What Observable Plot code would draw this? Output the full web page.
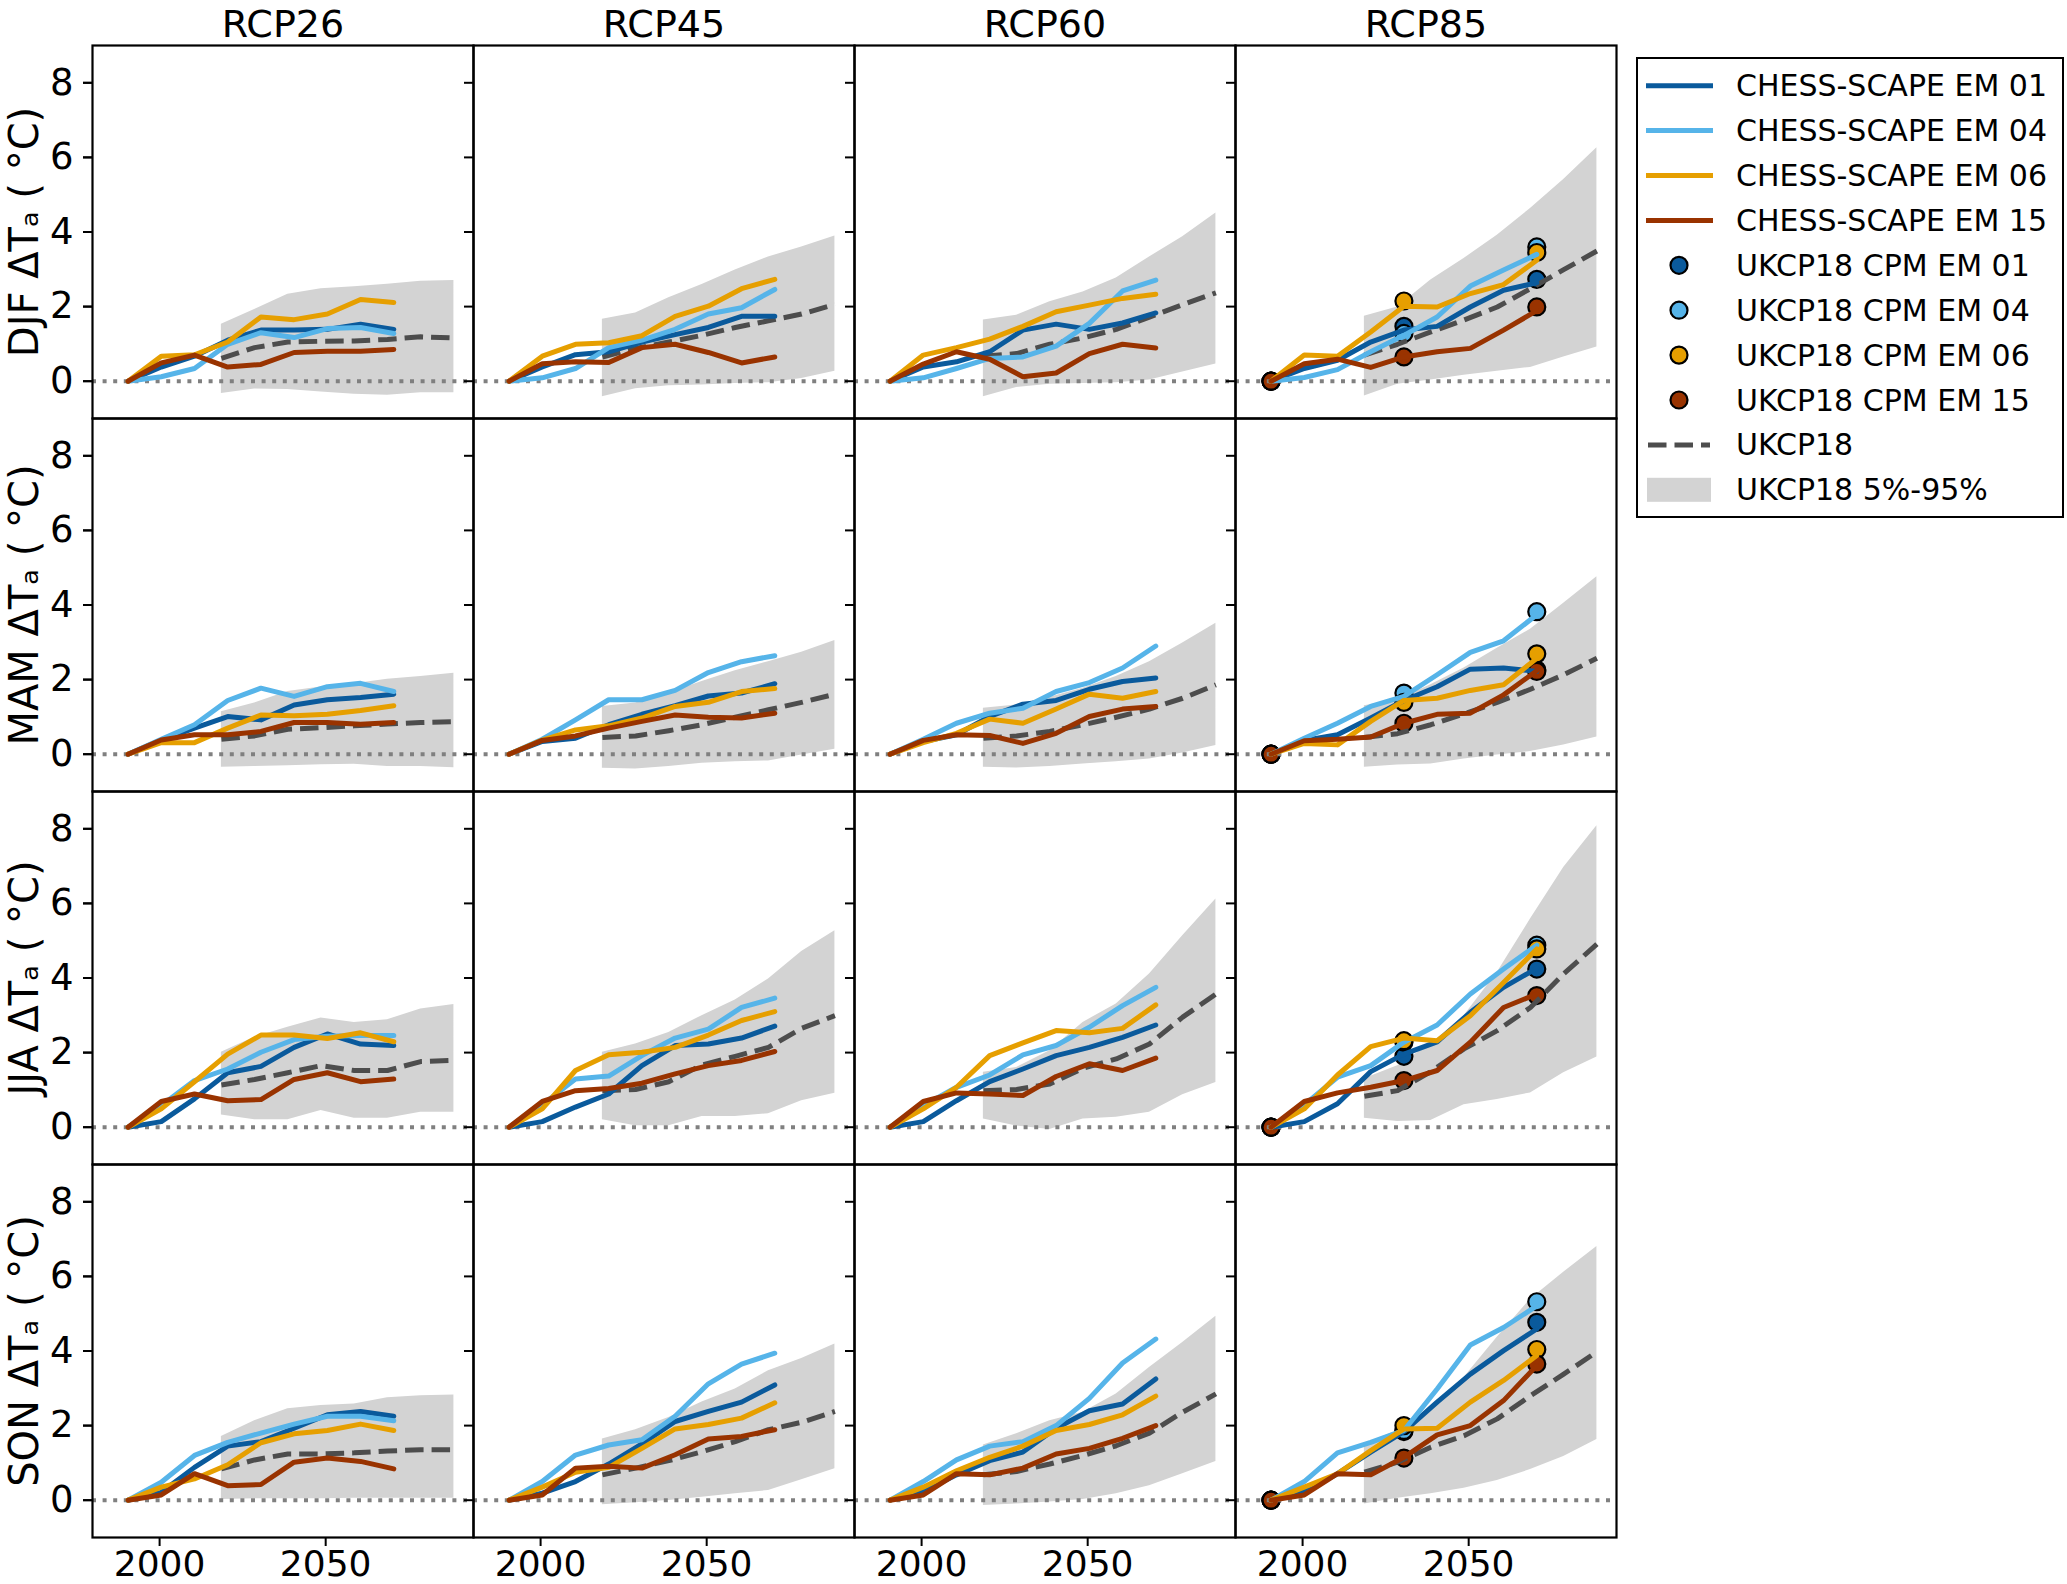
<!DOCTYPE html>
<html><head><meta charset="utf-8">
<script src="https://cdn.jsdelivr.net/npm/d3@7"></script>
<script src="https://cdn.jsdelivr.net/npm/@observablehq/plot@0.6"></script>
<style>
html,body{margin:0;padding:0;background:#fff;}
#wrap{position:relative;width:2067px;height:1584px;overflow:hidden;font-family:"DejaVu Sans",sans-serif;background:#fff;}
#chart{position:absolute;left:0;top:0;}
#legend{position:absolute;left:1636px;top:57px;}
</style></head>
<body><div id="wrap"><div id="chart"></div><div id="legend"></div></div>
<script>
// ---------- categories ----------
const rcps = ["RCP26", "RCP45", "RCP60", "RCP85"];
const seasons = ["DJF", "MAM", "JJA", "SON"];
const members = ["EM 01", "EM 04", "EM 06", "EM 15"];
const memberColors = ["#0a5a9c", "#56b4e9", "#e69f00", "#993300"];
const chessYears = [1990.5, 2000.5, 2010.5, 2020.5, 2030.5, 2040.5, 2050.5, 2060.5, 2070.5];
const ukcpYears = [2018.6, 2028.6, 2038.6, 2048.6, 2058.6, 2068.6, 2078.6, 2088.6];
const cpmYears = [1990.5, 2030.5, 2070.5];
const yTicks = [0, 2, 4, 6, 8];
const xTicks = [2000, 2050];

// ---------- CHESS-SCAPE (rows: RCP26, RCP45, RCP60, RCP85) ----------
const DJF_EM01 = [
  [0,0.38,0.67,1.10,1.37,1.37,1.39,1.53,1.39],
  [0,0.38,0.71,0.79,1.05,1.25,1.44,1.74,1.74],
  [0,0.38,0.52,0.79,1.37,1.53,1.39,1.56,1.83],
  [0,0.34,0.56,1.05,1.37,1.47,1.99,2.44,2.64]];
const DJF_EM04 = [
  [0,0.12,0.34,0.99,1.30,1.17,1.41,1.44,1.28],
  [0,0.09,0.34,0.90,1.10,1.39,1.80,1.97,2.46],
  [0,0.09,0.34,0.61,0.65,0.94,1.55,2.42,2.71],
  [0,0.10,0.31,0.79,1.23,1.72,2.55,2.98,3.40]];
const DJF_EM06 = [
  [0,0.67,0.71,1.05,1.72,1.65,1.80,2.19,2.11],
  [0,0.67,0.99,1.03,1.22,1.74,2.01,2.48,2.73],
  [0,0.70,0.90,1.13,1.47,1.86,2.04,2.22,2.33],
  [0,0.70,0.67,1.32,2.01,1.99,2.35,2.59,3.24]];
const DJF_EM15 = [
  [0,0.49,0.70,0.38,0.45,0.77,0.80,0.80,0.85],
  [0,0.47,0.52,0.50,0.90,0.99,0.77,0.49,0.65],
  [0,0.46,0.79,0.59,0.12,0.22,0.74,0.99,0.89],
  [0,0.47,0.59,0.37,0.65,0.79,0.88,1.37,1.89]];

const MAM_EM01 = [
  [0,0.38,0.70,1.01,0.92,1.32,1.46,1.52,1.61],
  [0,0.34,0.43,0.79,1.07,1.30,1.56,1.64,1.89],
  [0,0.34,0.52,1.01,1.34,1.44,1.74,1.95,2.04],
  [0,0.37,0.52,0.97,1.44,1.81,2.28,2.31,2.22]];
const MAM_EM04 = [
  [0,0.40,0.79,1.44,1.77,1.55,1.81,1.90,1.68],
  [0,0.40,0.92,1.46,1.46,1.71,2.19,2.48,2.64],
  [0,0.40,0.83,1.10,1.23,1.68,1.92,2.31,2.90],
  [0,0.43,0.83,1.28,1.55,2.13,2.73,3.04,3.74]];
const MAM_EM06 = [
  [0,0.31,0.31,0.70,1.05,1.03,1.07,1.17,1.30],
  [0,0.38,0.65,0.76,0.97,1.28,1.39,1.68,1.76],
  [0,0.31,0.56,0.94,0.83,1.21,1.61,1.50,1.68],
  [0,0.29,0.25,0.88,1.44,1.50,1.71,1.86,2.57]];
const MAM_EM15 = [
  [0,0.38,0.52,0.52,0.61,0.85,0.85,0.80,0.85],
  [0,0.37,0.49,0.70,0.88,1.05,0.99,0.97,1.10],
  [0,0.37,0.52,0.50,0.29,0.56,1.01,1.21,1.28],
  [0,0.36,0.40,0.46,0.83,1.07,1.10,1.59,2.24]];

const JJA_EM01 = [
  [0,0.15,0.76,1.46,1.63,2.14,2.50,2.23,2.19],
  [0,0.15,0.54,0.89,1.65,2.19,2.23,2.39,2.71],
  [0,0.15,0.71,1.22,1.56,1.92,2.14,2.41,2.74],
  [0,0.15,0.63,1.49,1.96,2.29,3.08,3.75,4.26]];
const JJA_EM04 = [
  [0,0.58,1.25,1.56,2.01,2.35,2.44,2.46,2.46],
  [0,0.60,1.29,1.37,1.92,2.39,2.63,3.21,3.46],
  [0,0.58,1.07,1.40,1.94,2.19,2.68,3.26,3.75],
  [0,0.60,1.34,1.65,2.28,2.74,3.57,4.24,4.88]];
const JJA_EM06 = [
  [0,0.49,1.22,1.96,2.47,2.47,2.38,2.53,2.29],
  [0,0.49,1.52,1.94,2.01,2.14,2.47,2.86,3.10],
  [0,0.49,1.07,1.92,2.26,2.59,2.53,2.65,3.28],
  [0,0.49,1.40,2.16,2.39,2.32,2.99,3.88,4.78]];
const JJA_EM15 = [
  [0,0.69,0.89,0.71,0.74,1.28,1.46,1.22,1.29],
  [0,0.69,0.98,1.04,1.18,1.43,1.65,1.79,2.03],
  [0,0.69,0.92,0.89,0.85,1.36,1.70,1.52,1.85],
  [0,0.69,0.92,1.07,1.25,1.52,2.28,3.21,3.57]];

const SON_EM01 = [
  [0,0.21,0.88,1.45,1.57,1.93,2.29,2.38,2.25],
  [0,0.19,0.50,0.97,1.51,2.11,2.38,2.63,3.09],
  [0,0.23,0.68,1.06,1.29,1.93,2.40,2.58,3.25],
  [0,0.23,0.71,1.29,1.84,2.63,3.38,4.01,4.59]];
const SON_EM04 = [
  [0,0.48,1.20,1.55,1.80,2.04,2.25,2.25,2.13],
  [0,0.50,1.21,1.48,1.62,2.25,3.12,3.65,3.94],
  [0,0.50,1.08,1.45,1.57,2.00,2.73,3.68,4.32],
  [0,0.50,1.27,1.55,1.87,2.98,4.16,4.63,5.21]];
const SON_EM06 = [
  [0,0.35,0.57,0.95,1.54,1.78,1.87,2.04,1.87],
  [0,0.35,0.75,0.88,1.39,1.91,2.03,2.20,2.61],
  [0,0.35,0.79,1.15,1.45,1.87,2.03,2.29,2.79],
  [0,0.35,0.71,1.33,1.91,1.93,2.63,3.21,3.88]];
const SON_EM15 = [
  [0,0.14,0.71,0.39,0.42,1.02,1.13,1.04,0.84],
  [0,0.14,0.86,0.91,0.86,1.22,1.64,1.71,1.89],
  [0,0.14,0.71,0.68,0.86,1.24,1.39,1.66,2.00],
  [0,0.14,0.71,0.68,1.15,1.75,2.00,2.67,3.61]];

// ---------- UKCP18 median, 5% and 95% (rows: RCP26..RCP85) ----------
const DJF_MED = [
  [0.61,0.90,1.05,1.07,1.08,1.12,1.19,1.16],
  [0.65,0.88,1.05,1.23,1.44,1.62,1.80,2.06],
  [0.67,0.74,0.99,1.16,1.39,1.72,2.05,2.37],
  [0.70,0.99,1.32,1.64,1.99,2.48,2.99,3.49]];
const DJF_LO = [
  [-0.33,-0.21,-0.22,-0.29,-0.35,-0.38,-0.31,-0.31],
  [-0.42,-0.20,-0.12,-0.10,-0.06,-0.04,0.07,0.27],
  [-0.42,-0.17,-0.08,-0.06,-0.04,0.03,0.25,0.46],
  [-0.40,-0.08,0.03,0.16,0.27,0.37,0.65,0.92]];
const DJF_HI = [
  [1.53,1.92,2.33,2.48,2.53,2.60,2.68,2.70],
  [1.66,1.83,2.24,2.59,2.98,3.33,3.60,3.89],
  [1.64,1.77,2.13,2.39,2.77,3.33,3.87,4.51],
  [1.74,1.99,2.71,3.29,3.91,4.63,5.41,6.26]];

const MAM_MED = [
  [0.40,0.49,0.67,0.71,0.76,0.81,0.85,0.87],
  [0.45,0.49,0.63,0.79,0.99,1.19,1.39,1.61],
  [0.43,0.49,0.61,0.79,0.99,1.21,1.50,1.86],
  [0.45,0.55,0.79,1.08,1.39,1.74,2.13,2.57]];
const MAM_LO = [
  [-0.35,-0.33,-0.31,-0.28,-0.27,-0.33,-0.33,-0.36],
  [-0.38,-0.40,-0.33,-0.24,-0.20,-0.18,-0.02,0.13],
  [-0.35,-0.37,-0.33,-0.26,-0.20,-0.13,0.03,0.23],
  [-0.35,-0.29,-0.26,-0.13,-0.02,0.07,0.25,0.46]];
const MAM_HI = [
  [1.14,1.37,1.68,1.80,1.89,2.01,2.08,2.17],
  [1.28,1.37,1.64,1.95,2.24,2.48,2.73,3.05],
  [1.23,1.32,1.53,1.77,2.08,2.48,2.98,3.51],
  [1.30,1.46,1.86,2.31,2.84,3.35,4.05,4.76]];

const JJA_MED = [
  [1.13,1.28,1.46,1.65,1.52,1.52,1.76,1.79],
  [0.98,1.01,1.22,1.67,1.90,2.14,2.65,2.99],
  [0.98,1.01,1.16,1.58,1.83,2.23,2.95,3.57],
  [0.83,0.98,1.49,2.10,2.59,3.21,4.11,4.91]];
const JJA_LO = [
  [0.33,0.20,0.20,0.45,0.24,0.24,0.40,0.40],
  [0.20,0.04,0.04,0.29,0.29,0.36,0.71,0.91],
  [0.22,0.03,-0.06,0.22,0.27,0.40,0.87,1.20],
  [0.24,0.15,0.18,0.60,0.74,0.92,1.46,1.88]];
const JJA_HI = [
  [2.01,2.41,2.68,2.93,2.81,2.88,3.17,3.29],
  [2.01,2.23,2.54,2.99,3.41,3.97,4.71,5.27],
  [1.47,1.60,2.05,2.81,3.30,4.11,5.13,6.12],
  [1.30,1.65,2.23,2.99,4.15,5.58,6.96,8.08]];

const SON_MED = [
  [0.84,1.08,1.24,1.24,1.27,1.32,1.35,1.35],
  [0.68,0.86,1.06,1.30,1.57,1.89,2.09,2.38],
  [0.68,0.77,0.97,1.20,1.46,1.80,2.36,2.85],
  [0.75,1.02,1.42,1.73,2.18,2.80,3.38,3.98]];
const SON_LO = [
  [0.02,0.04,0.04,0.04,0.05,0.05,0.05,0.05],
  [-0.12,-0.07,-0.01,0.08,0.17,0.26,0.55,0.84],
  [-0.14,-0.10,-0.05,0.02,0.17,0.39,0.71,1.04],
  [-0.10,0.05,0.17,0.32,0.53,0.82,1.17,1.63]];
const SON_HI = [
  [1.71,2.13,2.45,2.54,2.58,2.75,2.80,2.82],
  [1.64,1.89,2.22,2.63,2.98,3.47,3.80,4.19],
  [1.48,1.78,2.13,2.36,2.85,3.56,4.23,4.93],
  [1.51,1.87,2.49,3.29,4.37,5.39,6.11,6.80]];

// ---------- UKCP18 CPM points, RCP85 only (rows: EM01, EM04, EM06, EM15) ----------
const DJF_CPM = [[0,1.47,2.73],[0,1.28,3.60],[0,2.15,3.45],[0,0.65,1.99]];
const MAM_CPM = [[0,1.46,2.26],[0,1.64,3.82],[0,1.39,2.69],[0,0.83,2.22]];
const JJA_CPM = [[0,1.90,4.24],[0,2.28,4.88],[0,2.32,4.78],[0,1.25,3.53]];
const SON_CPM = [[0,1.84,4.77],[0,1.87,5.32],[0,2.00,4.04],[0,1.13,3.65]];

// ---------- tables for Plot ----------
const chessBySeason = {
  DJF: [DJF_EM01, DJF_EM04, DJF_EM06, DJF_EM15],
  MAM: [MAM_EM01, MAM_EM04, MAM_EM06, MAM_EM15],
  JJA: [JJA_EM01, JJA_EM04, JJA_EM06, JJA_EM15],
  SON: [SON_EM01, SON_EM04, SON_EM06, SON_EM15]};
const ukcpBySeason = {
  DJF: [DJF_MED, DJF_LO, DJF_HI], MAM: [MAM_MED, MAM_LO, MAM_HI],
  JJA: [JJA_MED, JJA_LO, JJA_HI], SON: [SON_MED, SON_LO, SON_HI]};
const cpmBySeason = {DJF: DJF_CPM, MAM: MAM_CPM, JJA: JJA_CPM, SON: SON_CPM};

const chess = [], ukcp = [], cpm = [];
for (const s of seasons) {
  rcps.forEach((r, ri) => {
    members.forEach((m, mi) => {
      chessBySeason[s][mi][ri].forEach((v, i) =>
        chess.push({season: s, rcp: r, member: m, year: chessYears[i], value: v}));
    });
    const [med, lo, hi] = ukcpBySeason[s];
    ukcpYears.forEach((y, i) =>
      ukcp.push({season: s, rcp: r, year: y, mid: med[ri][i], lo: lo[ri][i], hi: hi[ri][i]}));
  });
  members.forEach((m, mi) => {
    cpmBySeason[s][mi].forEach((v, i) =>
      cpm.push({season: s, rcp: "RCP85", member: m, year: cpmYears[i], value: v}));
  });
}
const yLabels = seasons.map(s => ({season: s, rcp: "RCP26", label: s + " \u0394T\u2090 ( \u00b0C)"}));

const chart = Plot.plot({
  width: 2067, height: 1584,
  marginLeft: 92, marginRight: 451, marginTop: 45, marginBottom: 47,
  style: {fontFamily: "DejaVu Sans", fontSize: "37px", color: "#000", background: "#fff", overflow: "visible"},
  x: {domain: [1979.8, 2094.5]},
  y: {domain: [-1, 9]},
  fx: {domain: rcps, padding: 0, label: null},
  fy: {domain: seasons, padding: 0, axis: null, label: null},
  color: {domain: members, range: memberColors},
  marks: [
    Plot.areaY(ukcp, {x: "year", y1: "lo", y2: "hi", fx: "rcp", fy: "season", fill: "#d3d3d3"}),
    Plot.dot(cpm, {x: "year", y: "value", fx: "rcp", fy: "season", fill: "member", stroke: "#000", strokeWidth: 2.2, r: 8.5}),
    Plot.ruleY([0], {stroke: "#808080", strokeWidth: 4, strokeDasharray: "4,6.6"}),
    Plot.line(ukcp, {x: "year", y: "mid", fx: "rcp", fy: "season", stroke: "#4d4d4d", strokeWidth: 5, strokeDasharray: "18.5,8", strokeLinecap: "butt"}),
    Plot.line(chess, {x: "year", y: "value", z: "member", stroke: "member", fx: "rcp", fy: "season", strokeWidth: 5}),
    Plot.frame({stroke: "#000", strokeWidth: 2.2}),
    Plot.axisFx({anchor: "top", tickSize: 0, tickPadding: 9, fontSize: 38, label: null}),
    Plot.axisY({ticks: yTicks, tickSize: 9, tickPadding: 10, fontSize: 37, label: null, strokeWidth: 2}),
    Plot.axisY({ticks: yTicks, tickSize: 9, text: null, label: null, strokeWidth: 2, facetAnchor: null}),
    Plot.axisX({ticks: xTicks, tickSize: 9, tickPadding: 4, tickFormat: "d", fontSize: 36, label: null, strokeWidth: 2}),
    Plot.text(yLabels, {fx: "rcp", fy: "season", text: "label", frameAnchor: "left", textAnchor: "middle", rotate: -90, dx: -67, fontSize: 40})
  ]
});
document.getElementById("chart").appendChild(chart);

// ---------- legend ----------
const legendEntries = [
  ...members.map((m, i) => ({type: "line", color: memberColors[i], label: "CHESS-SCAPE " + m})),
  ...members.map((m, i) => ({type: "dot", color: memberColors[i], label: "UKCP18 CPM " + m})),
  {type: "dash", color: "#4d4d4d", label: "UKCP18"},
  {type: "rect", color: "#d3d3d3", label: "UKCP18 5%-95%"}
];
const lw = 428, lh = 461;
const lsvg = d3.select("#legend").append("svg").attr("width", lw).attr("height", lh)
  .style("font-family", "DejaVu Sans").style("font-size", "30px");
lsvg.append("rect").attr("x", 1).attr("y", 1).attr("width", lw - 2).attr("height", lh - 2)
  .attr("fill", "#fff").attr("stroke", "#000").attr("stroke-width", 2);
legendEntries.forEach((e, i) => {
  const cy = 28.7 + 44.9 * i;
  const g = lsvg.append("g");
  if (e.type === "line") {
    g.append("line").attr("x1", 10).attr("x2", 77).attr("y1", cy).attr("y2", cy)
      .attr("stroke", e.color).attr("stroke-width", 5);
  } else if (e.type === "dot") {
    g.append("circle").attr("cx", 43).attr("cy", cy).attr("r", 8.5)
      .attr("fill", e.color).attr("stroke", "#000").attr("stroke-width", 2.2);
  } else if (e.type === "dash") {
    g.append("line").attr("x1", 12).attr("x2", 74).attr("y1", cy).attr("y2", cy)
      .attr("stroke", e.color).attr("stroke-width", 5).attr("stroke-dasharray", "18.5,8");
  } else {
    g.append("rect").attr("x", 11).attr("y", cy - 12).attr("width", 64).attr("height", 24).attr("fill", e.color);
  }
  g.append("text").attr("x", 100).attr("y", cy).attr("dy", "0.35em").attr("fill", "#000").text(e.label);
});
</script>
</body></html>
